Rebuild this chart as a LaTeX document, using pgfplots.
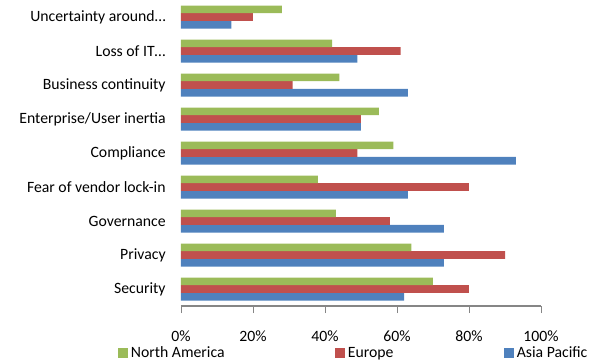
\documentclass[border=0pt]{standalone}
\usepackage{pgfplots}
\pgfplotsset{compat=1.18}
\usepackage{fontspec}
\setmainfont{Carlito}
\definecolor{na}{HTML}{9BBB59}
\definecolor{eu}{HTML}{C0504D}
\definecolor{ap}{HTML}{4F81BD}
\definecolor{axgray}{HTML}{868686}
\begin{document}
\begin{tikzpicture}
\begin{axis}[
  name=ax,
  scale only axis, width=270pt, height=229.5pt,
  font=\fontsize{11.8}{14}\selectfont,
  xbar=0pt, bar width=5.75pt,
  xmin=0, xmax=100, ymin=-0.5, ymax=8.5,
  axis x line*=bottom, axis y line*=left,
  y axis line style={draw=none},
  x axis line style={axgray, line width=0.8pt},
  tick align=outside,
  major tick length=5.25pt, minor tick length=2.5pt,
  tick style={axgray, line width=0.6pt},
  xtick={0,20,40,60,80,100},
  xticklabels={0\%,20\%,40\%,60\%,80\%,100\%},
  xticklabel style={yshift=-10pt},
  ytick=\empty,
  minor ytick={0.5,1.5,...,7.5},
  extra y ticks={0,1,2,3,4,5,6,7,8},
  extra y tick labels={Security,Privacy,Governance,Fear of vendor lock-in,Compliance,Enterprise/User inertia,Business continuity,Loss of IT\ldots,Uncertainty around\ldots},
  extra y tick style={major tick length=0pt, yticklabel style={xshift=-8pt}},
  legend columns=3, reverse legend,
  legend image code/.code={\fill[#1] (0pt,-3.75pt) rectangle (7.5pt,3.75pt);},
  legend style={at={(axis description cs:0,0)}, anchor=west, xshift=-47.25pt, yshift=-35.5pt,
    draw=none, fill=none, inner sep=0pt, font=\fontsize{11.8}{14}\selectfont,
    /tikz/every even column/.append style={column sep=81pt}},
]
\addplot[fill=ap, draw=none] coordinates {(62,0) (73,1) (73,2) (63,3) (93,4) (50,5) (63,6) (49,7) (14,8)};
\addplot[fill=eu, draw=none] coordinates {(80,0) (90,1) (58,2) (80,3) (49,4) (50,5) (31,6) (61,7) (20,8)};
\addplot[fill=na, draw=none] coordinates {(70,0) (64,1) (43,2) (38,3) (59,4) (55,5) (44,6) (42,7) (28,8)};
\legend{Asia Pacific, Europe, North America}
\end{axis}
\pgfresetboundingbox
\path[use as bounding box] ([xshift=-135.75pt, yshift=-41.25pt]ax.south west) rectangle ++(450pt,270.75pt);
\end{tikzpicture}
\end{document}
